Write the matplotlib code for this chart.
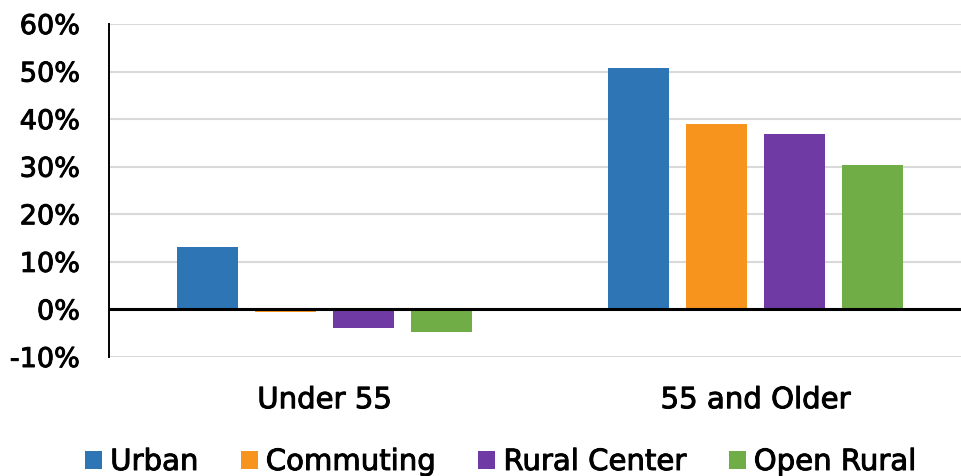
import matplotlib
matplotlib.use("Agg")
import matplotlib.pyplot as plt
import matplotlib.patheffects as pe
import numpy as np
from matplotlib.ticker import FuncFormatter

plt.rcParams['font.family'] = ['DejaVu Sans']

categories = ["Under 55", "55 and Older"]
series_names = ["Urban", "Commuting", "Rural Center", "Open Rural"]
urban = [13.1, 50.7]
commuting = [-0.6, 38.9]
rural_center = [-4.0, 36.8]
open_rural = [-4.8, 30.3]
colors = ["#2E75B6", "#F7941D", "#703AA5", "#70AD47"]
yticks = [-10, 0, 10, 20, 30, 40, 50, 60]

thick = [pe.withStroke(linewidth=0.7, foreground='black')]

fig = plt.figure(figsize=(9.61, 4.77), dpi=100)
ax = fig.add_axes([109/961, (477-358)/477, (961-109)/961, (358-25)/477])

x = np.arange(len(categories))
width = 0.1415
step = 0.181
all_series = [urban, commuting, rural_center, open_rural]
for i, (vals, name, c) in enumerate(zip(all_series, series_names, colors)):
    ax.bar(x + (i - 1.5) * step, vals, width, color=c, label=name, zorder=3)

ax.set_xlim(-0.5, 1.477)
ax.set_ylim(-10, 60)
ax.set_yticks(yticks)
ax.yaxis.set_major_formatter(FuncFormatter(lambda v, p: f"{int(v)}%"))
ax.set_xticks(x)
ax.set_xticklabels(categories)
ax.grid(axis='y', color='#D9D9D9', linewidth=1.5, zorder=0)
ax.axhline(0, color='black', linewidth=2.2, zorder=4)
for s in ['top', 'right', 'bottom']:
    ax.spines[s].set_visible(False)
ax.spines['left'].set_color('black')
ax.spines['left'].set_linewidth(1.4)
ax.tick_params(axis='both', length=0, colors='black')
ax.tick_params(axis='y', pad=21, labelsize=19.5)
ax.tick_params(axis='x', pad=21, labelsize=21)
for t in ax.get_xticklabels() + ax.get_yticklabels():
    t.set_path_effects(thick)

handles, labels = ax.get_legend_handles_labels()
leg = fig.legend(handles, labels, loc='center', bbox_to_anchor=(0.521, 1 - 463/477), ncol=4,
                 frameon=False, fontsize=21, handlelength=0.58, handleheight=0.58,
                 handletextpad=0.28, columnspacing=1.45, borderaxespad=0)
for t in leg.get_texts():
    t.set_path_effects(thick)

fig.savefig("out.png", dpi=100)
